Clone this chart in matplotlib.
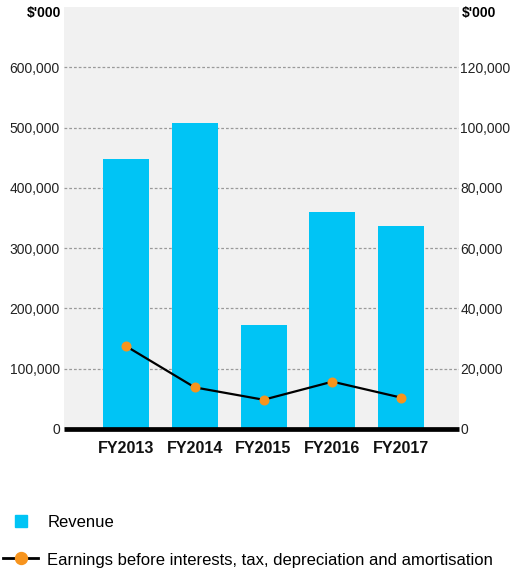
import matplotlib
matplotlib.use("Agg")
import matplotlib.pyplot as plt
from matplotlib.lines import Line2D
from matplotlib.ticker import FuncFormatter

plt.rcParams['font.family'] = ['Liberation Sans', 'DejaVu Sans']

years = ["FY2013", "FY2014", "FY2015", "FY2016", "FY2017"]
revenue = [448000, 508000, 173000, 360000, 337000]
ebitda = [27500, 13800, 9700, 15700, 10400]
left_ticks = [0, 100000, 200000, 300000, 400000, 500000, 600000]
right_ticks = [0, 20000, 40000, 60000, 80000, 100000, 120000]

bar_color = "#00c4f5"
dot_color = "#f7941d"

fig = plt.figure(figsize=(5.14, 5.70), dpi=100)
ax = fig.add_axes([0.1245, 0.2474, 0.7685, 0.7403])
ax.set_facecolor("#f1f1f1")

x = list(range(len(years)))
ax.bar(x, revenue, width=0.67, color=bar_color, zorder=2)
ax.set_xlim(-0.9, 4.84)
ax.set_ylim(0, 700000)
ax.set_yticks(left_ticks)
ax.yaxis.set_major_formatter(FuncFormatter(lambda v, p: f"{int(v):,}"))
ax.grid(axis="y", color="#9a9a9a", linestyle=(0, (2.2, 1.6)), linewidth=0.9, zorder=1)
ax.set_axisbelow(True)
ax.tick_params(axis="y", length=0, pad=3, labelsize=10, labelcolor="#222222")
ax.tick_params(axis="x", length=0, pad=9)
ax.set_xticks(x)
ax.set_xticklabels(years, fontsize=11.5, fontweight="bold", color="#111111")
for s in ["left", "right", "top"]:
    ax.spines[s].set_visible(False)
ax.spines["bottom"].set_linewidth(3.4)
ax.spines["bottom"].set_color("black")
ax.spines["bottom"].set_capstyle("butt")
ax.spines["bottom"].set_zorder(5)

ax2 = ax.twinx()
ax2.set_ylim(0, 140000)
ax2.set_yticks(right_ticks)
ax2.yaxis.set_major_formatter(FuncFormatter(lambda v, p: f"{int(v):,}"))
ax2.tick_params(axis="y", length=0, pad=1, labelsize=10, labelcolor="#222222")
for s in ["left", "right", "top", "bottom"]:
    ax2.spines[s].set_visible(False)
ax2.plot(x, ebitda, color="black", linewidth=1.6, marker="o", markersize=6.2,
         markerfacecolor=dot_color, markeredgecolor=dot_color, zorder=3)

fig.text(61 / 514, 1 - 13 / 570, "$'000", ha="right", va="center", fontsize=10, fontweight="bold")
fig.text(462 / 514, 1 - 13 / 570, "$'000", ha="left", va="center", fontsize=10, fontweight="bold")

handles = [
    Line2D([0], [0], linestyle="none", marker="s", markersize=8.8,
           markerfacecolor=bar_color, markeredgecolor=bar_color),
    Line2D([0], [0], color="black", linewidth=2.0, marker="o", markersize=8.6,
           markerfacecolor=dot_color, markeredgecolor=dot_color),
]
labels = ["Revenue", "Earnings before interests, tax, depreciation and amortisation"]
fig.legend(handles, labels, loc="lower left", bbox_to_anchor=(3 / 514, 2 / 570),
           frameon=False, fontsize=12, handlelength=2.1, handleheight=1.0,
           handletextpad=0.55, labelspacing=1.3, borderaxespad=0, borderpad=0)

fig.savefig("out.png", dpi=100)
